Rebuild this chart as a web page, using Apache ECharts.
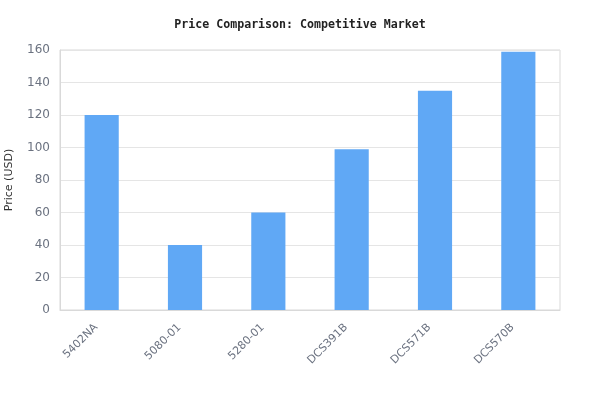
<!DOCTYPE html>
<html><head><meta charset="utf-8">
<script src="https://cdn.jsdelivr.net/npm/echarts@6/dist/echarts.min.js"></script>
<style>html,body{margin:0;padding:0;background:#fff}#c{width:600px;height:420px}</style>
</head><body><div id="c"></div>
<script>
const categories = ['5402NA', '5080-01', '5280-01', 'DCS391B', 'DCS571B', 'DCS570B'];
const prices = [120, 40, 60, 99, 135, 159];
const yTicks = { min: 0, max: 160, interval: 20 };

const chart = echarts.init(document.getElementById('c'), null, { renderer: 'canvas' });
chart.setOption({
  animation: false,
  backgroundColor: '#ffffff',
  title: {
    text: 'Price Comparison: Competitive Market',
    left: 'center', top: 14,
    textStyle: { fontFamily: 'DejaVu Sans Mono', fontWeight: 'bold', fontSize: 11.6, color: '#222' }
  },
  grid: { left: 60, right: 40, top: 50, bottom: 110, show: true, borderColor: '#d9d9d9', borderWidth: 1,
          containLabel: false, outerBoundsMode: 'none' },
  xAxis: {
    type: 'category', data: categories,
    axisLine: { lineStyle: { color: '#d9d9d9' } },
    axisTick: { show: false },
    axisLabel: { rotate: 45, color: '#6b7280', fontSize: 11, fontFamily: 'DejaVu Sans', margin: 10,
                 padding: [0, 8, 0, 0] }
  },
  yAxis: {
    type: 'value', min: yTicks.min, max: yTicks.max, interval: yTicks.interval,
    name: 'Price (USD)', nameLocation: 'middle', nameGap: 45,
    nameTextStyle: { color: '#333', fontSize: 11, fontFamily: 'DejaVu Sans' },
    axisLine: { show: true, lineStyle: { color: '#d9d9d9' } },
    axisTick: { show: false },
    axisLabel: { color: '#6b7280', fontSize: 12, fontFamily: 'DejaVu Sans', margin: 10 },
    splitLine: { lineStyle: { color: '#e5e5e5' } }
  },
  series: [{
    type: 'bar', data: prices, barWidth: '41%',
    itemStyle: { color: '#60a8f5' }
  }]
});
</script></body></html>
